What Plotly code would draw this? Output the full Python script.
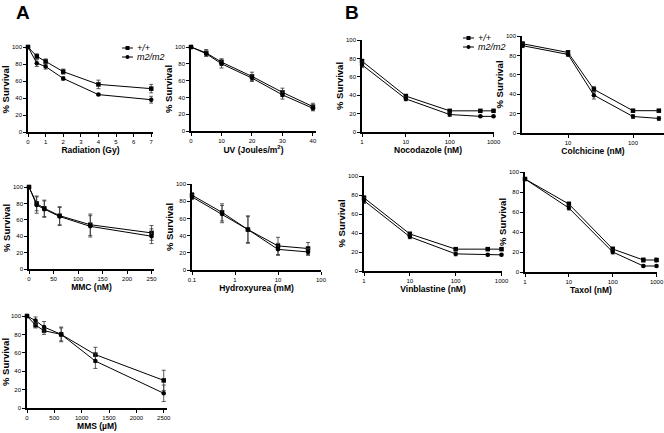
import plotly.graph_objects as go

# ---------------- data ----------------
rad_x = [0, 0.5, 1, 2, 4, 7]
rad_wt = [100, 89, 83, 71, 56, 51]
rad_wt_err = [0, 3, 3, 3, 5, 5]
rad_m2 = [100, 81, 77, 63, 44, 38]
rad_m2_err = [0, 4, 3, 2, 1, 4]

uv_x = [0, 5, 10, 20, 30, 40]
uv_wt = [100, 93, 82, 65, 46, 29]
uv_wt_err = [0, 4, 4, 5, 5, 4]
uv_m2 = [100, 92, 80, 63, 43, 27]
uv_m2_err = [0, 3, 5, 4, 5, 3]

noc_x = [1, 10, 100, 500, 1000]
noc_wt = [77, 39, 23, 23, 23]
noc_wt_err = [2, 2, 1, 1, 1]
noc_m2 = [73, 36, 19, 17, 17]
noc_m2_err = [3, 2, 2, 1, 1]

col_x = [2, 10, 25, 100, 250]
col_wt = [92, 83, 45, 23, 23]
col_wt_err = [2, 2, 3, 1, 1]
col_m2 = [90, 81, 39, 17, 15]
col_m2_err = [2, 2, 4, 2, 2]

mmc_x = [0, 15.6, 31.25, 62.5, 125, 250]
mmc_wt = [100, 80, 74, 65, 54, 44]
mmc_wt_err = [0, 9, 10, 11, 13, 9]
mmc_m2 = [100, 78, 73, 64, 52, 40]
mmc_m2_err = [0, 10, 10, 11, 13, 9]

hu_x = [0.1, 0.5, 2, 10, 50]
hu_wt = [87, 67, 47, 28, 25]
hu_wt_err = [3, 10, 15, 10, 7]
hu_m2 = [85, 65, 47, 24, 21]
hu_m2_err = [3, 10, 16, 7, 4]

vin_x = [1, 10, 100, 500, 1000]
vin_wt = [77, 39, 23, 23, 23]
vin_wt_err = [2, 2, 1, 1, 1]
vin_m2 = [74, 36, 18, 17, 17]
vin_m2_err = [3, 2, 2, 1, 1]

tax_x = [1, 10, 100, 500, 1000]
tax_wt = [93, 68, 23, 12, 12]
tax_wt_err = [1, 2, 2, 2, 2]
tax_m2 = [93, 64, 20, 6, 6]
tax_m2_err = [1, 2, 2, 1, 1]

mms_x = [0, 156, 312, 625, 1250, 2500]
mms_wt = [100, 90, 84, 80, 58, 30]
mms_wt_err = [0, 3, 4, 7, 8, 11]
mms_m2 = [100, 95, 88, 80, 51, 16]
mms_m2_err = [0, 4, 6, 8, 8, 9]

series_names = ["+/+", "m2/m2"]
series_symbols = ["square", "circle"]
y_ticks = [0, 20, 40, 60, 80, 100]

W, H = 664, 433
FONT = "Liberation Sans, Arial, sans-serif"


def fx(p):
    return p / W


def fy(p):
    return 1 - p / H


panels = [
    dict(x=rad_x, wt=rad_wt, wte=rad_wt_err, m2=rad_m2, m2e=rad_m2_err,
         title="Radiation (Gy)", box=(28, 153, 47, 132), type="linear",
         rng=[0, 7.1], tv=[0, 1, 2, 3, 4, 5, 6, 7]),
    dict(x=uv_x, wt=uv_wt, wte=uv_wt_err, m2=uv_m2, m2e=uv_m2_err,
         title="UV (Joules/m<sup>2</sup>)", box=(191, 316, 47, 131), type="linear",
         rng=[0, 41], tv=[0, 10, 20, 30, 40]),
    dict(x=noc_x, wt=noc_wt, wte=noc_wt_err, m2=noc_m2, m2e=noc_m2_err,
         title="Nocodazole (nM)", box=(362, 494, 40, 132), type="log",
         rng=[0, 3.01], tv=[1, 10, 100, 1000]),
    dict(x=col_x, wt=col_wt, wte=col_wt_err, m2=col_m2, m2e=col_m2_err,
         title="Colchicine (nM)", box=(522, 664, 36, 133), type="log",
         rng=[0.292, 2.477], tv=[10, 100]),
    dict(x=mmc_x, wt=mmc_wt, wte=mmc_wt_err, m2=mmc_m2, m2e=mmc_m2_err,
         title="MMC (nM)", box=(29, 154, 187, 269), type="linear",
         rng=[0, 255], tv=[0, 50, 100, 150, 200, 250]),
    dict(x=hu_x, wt=hu_wt, wte=hu_wt_err, m2=hu_m2, m2e=hu_m2_err,
         title="Hydroxyurea (mM)", box=(192, 321, 184, 270), type="log",
         rng=[-1, 2], tv=[0.1, 1, 10, 100]),
    dict(x=vin_x, wt=vin_wt, wte=vin_wt_err, m2=vin_m2, m2e=vin_m2_err,
         title="Vinblastine (nM)", box=(364, 502, 176, 271), type="log",
         rng=[0, 3.01], tv=[1, 10, 100, 1000]),
    dict(x=tax_x, wt=tax_wt, wte=tax_wt_err, m2=tax_m2, m2e=tax_m2_err,
         title="Taxol (nM)", box=(525, 657, 172, 272), type="log",
         rng=[0, 3.01], tv=[1, 10, 100, 1000]),
    dict(x=mms_x, wt=mms_wt, wte=mms_wt_err, m2=mms_m2, m2e=mms_m2_err,
         title="MMS (\u00b5M)", box=(27, 167, 316, 408), type="linear",
         rng=[0, 2560], tv=[0, 500, 1000, 1500, 2000, 2500]),
]

fig = go.Figure()
layout = {}
for i, p in enumerate(panels):
    n = "" if i == 0 else str(i + 1)
    xa, ya = "x" + n, "y" + n
    for name, ys, es, sym in [(series_names[0], p["wt"], p["wte"], series_symbols[0]),
                              (series_names[1], p["m2"], p["m2e"], series_symbols[1])]:
        fig.add_trace(go.Scatter(
            x=p["x"], y=ys, xaxis=xa, yaxis=ya, mode="lines+markers",
            name=name,
            line=dict(color="black", width=1),
            marker=dict(symbol=sym, size=4.5, color="black"),
            error_y=dict(type="data", array=es, visible=True, color="#333",
                         thickness=0.8, width=2),
            showlegend=False,
            cliponaxis=False,
        ))
    x0, x1, yt, yb = p["box"]
    layout["xaxis" + n] = dict(
        domain=[fx(x0), fx(x1)], anchor=ya, type=p["type"], range=p["rng"],
        tickmode="array", tickvals=p["tv"], automargin=False,
        ticklabeloverflow="allow",
        ticks="outside", ticklen=3, tickwidth=1, tickcolor="black",
        showline=True, linecolor="black", linewidth=1.5, showgrid=False,
        zeroline=False, tickfont=dict(size=6, family=FONT, color="black"),
        title=dict(text=p["title"], standoff=1,
                   font=dict(size=8.5, family=FONT, color="black", weight="bold")),
    )
    layout["yaxis" + n] = dict(
        domain=[fy(yb), fy(yt)], anchor=xa, range=[0, 100],
        tickmode="array", tickvals=y_ticks, automargin=False,
        ticklabeloverflow="allow",
        ticks="outside", ticklen=3, tickwidth=1, tickcolor="black",
        showline=True, linecolor="black", linewidth=1.5, showgrid=False,
        zeroline=False, tickfont=dict(size=6, family=FONT, color="black"),
        title=dict(text="% Survival", standoff=1,
                   font=dict(size=9.5, family=FONT, color="black", weight="bold")),
    )

# ---- legends (drawn as key shapes + italic labels) ----
shapes = []
annotations = [
    dict(text="<b>A</b>", x=fx(14), y=fy(0), xref="paper", yref="paper",
         xanchor="left", yanchor="top", showarrow=False,
         font=dict(size=19, family=FONT, color="black")),
    dict(text="<b>B</b>", x=fx(343), y=fy(0), xref="paper", yref="paper",
         xanchor="left", yanchor="top", showarrow=False,
         font=dict(size=19, family=FONT, color="black")),
]
legend_spots = [(122, 48), (463, 38)]
for lx, ly in legend_spots:
    for k, name in enumerate(series_names):
        yy = ly + 9 * k
        shapes.append(dict(type="line", xref="paper", yref="paper",
                           x0=fx(lx), x1=fx(lx + 11), y0=fy(yy), y1=fy(yy),
                           line=dict(color="black", width=1)))
        cx = lx + 5.5
        shp = "rect" if series_symbols[k] == "square" else "circle"
        shapes.append(dict(type=shp, xref="paper", yref="paper",
                           x0=fx(cx - 2), x1=fx(cx + 2), y0=fy(yy + 2), y1=fy(yy - 2),
                           fillcolor="black", line=dict(color="black", width=0)))
        annotations.append(dict(text="<i>" + name + "</i>", x=fx(lx + 13), y=fy(yy),
                                xref="paper", yref="paper", xanchor="left",
                                yanchor="middle", showarrow=False,
                                font=dict(size=9, family=FONT, color="black")))

fig.update_layout(
    width=W, height=H, margin=dict(l=0, r=0, t=0, b=0, pad=0),
    plot_bgcolor="white", paper_bgcolor="white",
    font=dict(family=FONT, color="black"),
    showlegend=False,
    shapes=shapes,
    annotations=annotations,
    **layout,
)

fig.write_html("out.html", config={"displayModeBar": False},
               post_script="document.body.style.margin='0px';")
